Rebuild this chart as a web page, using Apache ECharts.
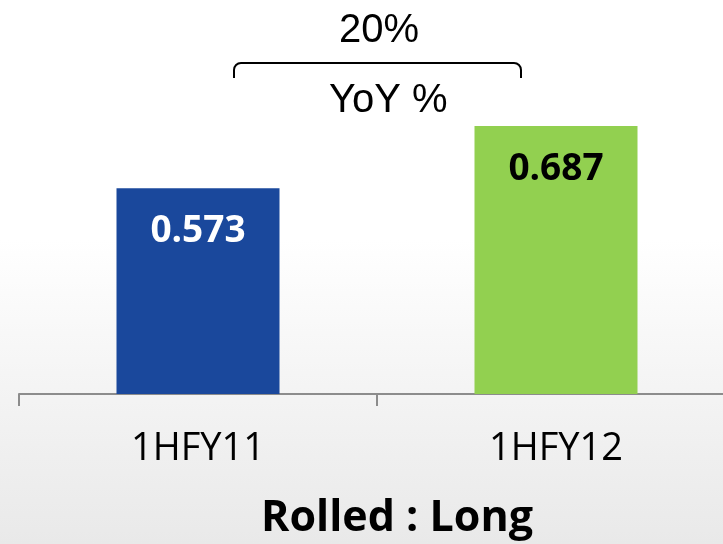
<!DOCTYPE html>
<html><head><meta charset="utf-8">
<script src="https://cdn.jsdelivr.net/npm/echarts@6/dist/echarts.min.js"></script>
<style>html,body{margin:0;padding:0;width:723px;height:544px;overflow:hidden;}
body{background:linear-gradient(to bottom,#ffffff 0px,#ffffff 240px,#f3f3f3 400px,#e9e9e9 544px);}
#c{width:760px;height:544px;}</style>
</head><body><div id="c"></div>
<script>
const categories = ['1HFY11', '1HFY12'];
const values = [0.573, 0.687];
const barColors = ['#1a489c', '#92d050'];
const labelColors = ['#ffffff', '#000000'];
const yoyText = '20%';
const yoyLabel = 'YoY %';
const chartTitle = 'Rolled : Long';

const br = {stroke: '#000', lineWidth: 2, fill: null};
const chart = echarts.init(document.getElementById('c'), null, {renderer: 'canvas'});
chart.setOption({
  backgroundColor: 'transparent',
  animation: false,
  title: {
    text: chartTitle, left: 256, top: 492,
    textStyle: {fontFamily: 'Open Sans', fontWeight: 'bold', fontSize: 43, color: '#000'}
  },
  grid: {left: 19, right: 25, top: 126, bottom: 150, containLabel: false},
  xAxis: {
    type: 'category', data: categories,
    axisLine: {lineStyle: {color: '#8c8c8c', width: 2}},
    axisTick: {show: true, length: 12, lineStyle: {color: '#8c8c8c', width: 2}},
    axisLabel: {margin: 36, fontFamily: 'Open Sans', fontSize: 38, color: '#000'}
  },
  yAxis: {type: 'value', min: 0.196, max: 0.687, show: false, splitLine: {show: false}},
  series: [{
    type: 'bar', barWidth: 163,
    data: values.map((v, i) => ({
      value: v,
      itemStyle: {color: barColors[i]},
      label: {color: labelColors[i]}
    })),
    label: {
      show: true, position: 'insideTop', distance: 25,
      fontFamily: 'Open Sans', fontWeight: 'bold', fontSize: 37,
      formatter: p => p.value.toFixed(3)
    }
  }],
  graphic: [
    {type: 'text', left: 339, top: 11, style: {text: yoyText, fontFamily: 'Liberation Sans', fontSize: 40, fill: '#000'}},
    {type: 'line', shape: {x1: 234, y1: 78, x2: 234, y2: 70}, style: br},
    {type: 'arc', shape: {cx: 241, cy: 70, r: 7, startAngle: Math.PI, endAngle: Math.PI * 1.5, clockwise: true}, style: br},
    {type: 'line', shape: {x1: 241, y1: 63, x2: 514, y2: 63}, style: br},
    {type: 'arc', shape: {cx: 514, cy: 70, r: 7, startAngle: Math.PI * 1.5, endAngle: Math.PI * 2, clockwise: true}, style: br},
    {type: 'line', shape: {x1: 521, y1: 70, x2: 521, y2: 78}, style: br},
    {type: 'text', left: 329, top: 81, style: {text: yoyLabel, fontFamily: 'Liberation Sans', fontSize: 40, fill: '#000'}}
  ]
});
</script></body></html>
